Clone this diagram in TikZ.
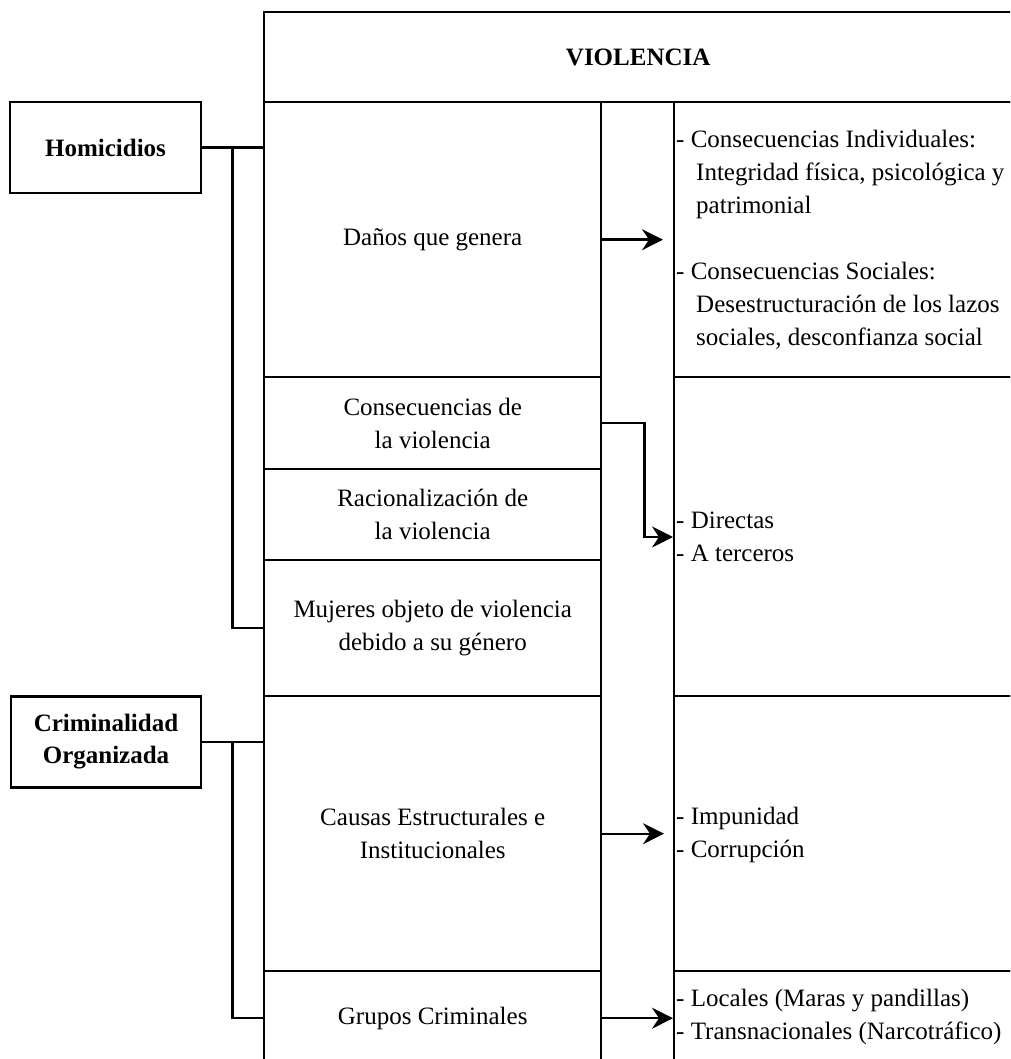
\documentclass[tikz,border=0pt]{standalone}
\usepackage{fontspec}
\setmainfont{Liberation Serif}
\usetikzlibrary{arrows.meta,calc}
\begin{document}
\begin{tikzpicture}[x=1pt,y=-1pt,
  every node/.style={font=\fontsize{25}{33}\selectfont},
  cell/.style={draw, line width=2.4pt, anchor=north west, inner sep=0pt, align=center},
  lbox/.style={draw, line width=2.4pt, align=center, inner sep=0pt, font=\fontsize{25}{32}\selectfont\bfseries},
  conn/.style={line width=2.4pt},
  arr/.style={line width=2.4pt, -{Stealth[length=21pt,width=21pt,inset=7pt]}},
  rtext/.style={anchor=west, align=left, inner sep=0pt}
]
\clip (0,0) rectangle (1010,1059);
% header
\node[cell, minimum width=748pt, minimum height=90pt, font=\fontsize{25}{33}\selectfont\bfseries] (vio) at (263,11) {VIOLENCIA};
% left column
\node[cell, minimum width=337pt, minimum height=275pt] (dan) at (263,101) {Daños que genera};
\node[cell, minimum width=337pt, minimum height=92pt] (cons) at (263,376) {Consecuencias de\\la violencia};
\node[cell, minimum width=337pt, minimum height=91pt] (rac) at (263,468) {Racionalización de\\la violencia};
\node[cell, minimum width=337pt, minimum height=136pt] (muj) at (263,559) {Mujeres objeto de violencia\\debido a su género};
\node[cell, minimum width=337pt, minimum height=275pt] (caus) at (263,695) {Causas Estructurales e\\Institucionales};
\node[cell, minimum width=337pt, minimum height=94pt] (grup) at (263,970) {Grupos Criminales};
% right column
\node[cell, minimum width=338pt, minimum height=275pt] (r1) at (673,101) {};
\node[cell, minimum width=338pt, minimum height=319pt] (r2) at (673,376) {};
\node[cell, minimum width=338pt, minimum height=275pt] (r3) at (673,695) {};
\node[cell, minimum width=338pt, minimum height=94pt] (r4) at (673,970) {};
% right texts
\node[rtext] (t1) at (676,240) {- Consecuencias Individuales:\\\hspace*{0.8em}Integridad física, psicológica y\\\hspace*{0.8em}patrimonial\\[33pt]- Consecuencias Sociales:\\\hspace*{0.8em}Desestructuración de los lazos\\\hspace*{0.8em}sociales, desconfianza social};
\node[rtext] (t2) at (676,537) {- Directas\\- A terceros};
\node[rtext] (t3) at (676,835) {- Impunidad\\- Corrupción};
\node[rtext] (t4) at (676,1017) {- Locales (Maras y pandillas)\\- Transnacionales (Narcotráfico)};
% left boxes
\node[lbox, minimum width=191pt, minimum height=91pt] (hom) at (105.5,147.5) {Homicidios};
\node[lbox, minimum width=190pt, minimum height=91pt] (crim) at (106,742) {Criminalidad\\Organizada};
% brackets
\coordinate (hj) at ($(hom.east)!0.5!(hom.east -| dan.west)$);
\coordinate (cj) at ($(crim.east)!0.5!(crim.east -| caus.west)$);
\draw[conn] (hom.east) -- (hom.east -| dan.west);
\draw[conn] (hj) |- (muj.west);
\draw[conn] (crim.east) -- (crim.east -| caus.west);
\draw[conn] (cj) |- (grup.west);
% arrows
\coordinate (dirc) at (673,537);
\draw[arr] (dan.east) -- ([xshift=-10pt]r1.west |- dan.east);
\draw[arr] (cons.east) -- ++(42,0) |- (dirc);
\draw[arr] (caus.east) -- ([xshift=-9pt]r3.west |- caus.east);
\draw[arr] (grup.east) -- (r4.west |- grup.east);
\end{tikzpicture}
\end{document}
